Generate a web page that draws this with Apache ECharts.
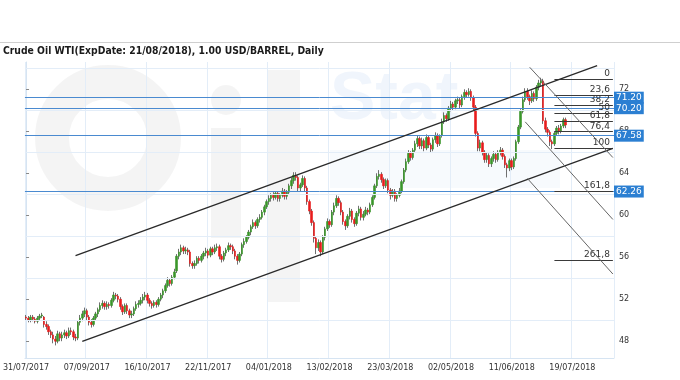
<!DOCTYPE html>
<html><head><meta charset="utf-8">
<script src="https://cdn.jsdelivr.net/npm/echarts@6/dist/echarts.min.js"></script>
<style>html,body{margin:0;padding:0;background:#fff}#c{width:680px;height:380px}</style>
</head><body><div id="c"></div>
<script>
const chartTitle = 'Crude Oil WTI(ExpDate: 21/08/2018), 1.00 USD/BARREL, Daily';
const tickLabels = ['31/07/2017','07/09/2017','16/10/2017','22/11/2017','04/01/2018','13/02/2018','23/03/2018','02/05/2018','11/06/2018','19/07/2018'];
const startDate = '2017-07-31';
const holidays = ['2017-09-04','2017-11-23','2017-11-24','2017-12-25','2018-01-01','2018-01-15','2018-02-19','2018-03-30','2018-05-28','2018-07-04'];
const categoryCount = 262;
const yTickValues = [48,52,56,60,64,68,72];
const yGridValues = [50,54,58,62,66,70,74];

const opens = [
50.3,50.2,50.0,50.3,50.1,49.9,50.2,50.4,50.3,49.6,
49.4,48.9,48.6,48.2,48.0,48.7,48.3,48.6,48.8,48.5,
49.0,48.9,48.4,48.3,49.8,50.2,50.6,50.9,50.3,49.8,
49.6,50.2,50.6,51.0,51.4,51.6,51.3,51.5,51.4,51.9,
52.4,52.3,52.0,51.3,50.8,51.4,50.9,50.5,50.6,51.1,
51.5,51.6,51.9,52.2,52.4,51.9,51.6,51.4,51.7,51.5,
52.0,52.4,52.8,53.3,53.8,53.5,54.1,54.7,56.1,56.5,
56.9,56.6,56.7,56.5,55.4,55.2,55.4,55.9,55.7,56.1,
56.4,56.6,56.2,56.8,56.5,56.9,57.0,56.1,55.8,56.4,
56.7,57.1,57.0,56.6,56.1,55.7,56.3,57.2,57.5,57.9,
58.4,58.9,59.3,59.0,59.6,59.8,60.3,60.8,61.3,61.6,
61.9,61.7,62.1,61.6,61.9,62.3,61.8,62.2,62.8,63.3,
63.8,63.6,62.6,62.9,63.5,62.6,61.3,60.4,59.3,57.8,
56.9,57.4,56.5,57.9,58.7,59.4,59.1,60.3,60.9,61.6,
61.2,60.3,59.4,59.0,59.9,60.4,59.6,59.2,60.2,60.6,
59.8,60.1,60.5,60.3,61.0,61.7,62.8,63.7,63.9,63.4,
62.8,63.3,62.4,61.9,62.3,61.6,61.9,62.3,63.2,64.3,
65.1,65.9,65.5,66.2,66.8,67.3,66.6,67.1,66.4,67.4,
66.7,66.3,67.2,67.6,66.8,67.6,68.9,69.5,69.2,70.2,
70.6,70.3,70.9,71.0,70.5,71.3,71.7,71.5,71.8,71.2,
70.3,67.8,66.4,66.9,66.0,65.3,65.7,64.9,65.4,65.8,
65.3,66.0,66.2,65.6,64.8,64.5,65.2,64.6,65.4,67.0,
68.4,69.9,71.0,71.8,71.3,70.9,71.6,71.1,72.2,72.6,
72.8,69.0,68.2,67.9,67.0,66.8,67.8,68.3,68.0,68.5,
69.1];
const closes = [
50.2,50.0,50.3,50.1,49.9,50.2,50.4,50.5,49.6,49.4,
48.9,48.6,48.2,48.0,48.7,48.3,48.6,48.8,48.5,49.0,
48.9,48.4,48.3,49.8,50.2,50.6,50.9,50.3,49.8,49.6,
50.2,50.6,51.0,51.4,51.6,51.3,51.5,51.4,51.9,52.4,
52.3,52.0,51.3,50.8,51.4,50.9,50.5,50.6,51.1,51.5,
51.6,51.9,52.2,52.4,51.9,51.6,51.4,51.7,51.5,52.0,
52.4,52.8,53.3,53.8,53.5,54.1,54.6,56.1,56.5,56.9,
56.6,56.7,56.5,55.4,55.2,55.4,55.9,55.7,56.1,56.4,
56.6,56.2,56.8,56.5,56.9,57.0,56.1,55.8,56.4,56.7,
57.1,57.0,56.6,56.1,55.7,56.3,57.2,57.5,57.9,58.4,
58.9,59.3,59.0,59.6,59.8,60.3,60.8,61.3,61.6,61.9,
61.7,62.1,61.6,61.9,62.3,61.8,62.2,62.8,63.3,63.8,
63.6,62.6,62.9,63.5,62.6,61.3,60.4,59.3,57.8,56.9,
57.4,56.5,57.9,58.7,59.4,59.1,60.3,60.9,61.6,61.2,
60.3,59.4,59.0,59.9,60.4,59.6,59.2,60.2,60.6,59.8,
60.1,60.5,60.3,61.0,61.7,62.8,63.7,63.9,63.4,62.8,
63.3,62.4,61.9,62.3,61.6,61.9,62.3,63.2,64.3,65.1,
65.9,65.5,66.2,66.8,67.3,66.6,67.1,66.4,67.4,66.7,
66.3,67.2,67.6,66.8,67.5,68.9,69.5,69.2,70.2,70.6,
70.3,70.9,71.0,70.5,71.3,71.7,71.5,71.8,71.2,70.3,
67.8,66.4,66.9,66.0,65.3,65.7,64.9,65.4,65.8,65.3,
66.0,66.2,65.6,64.8,64.5,65.2,64.6,65.4,67.0,68.4,
69.9,71.0,71.8,71.3,70.9,71.6,71.1,72.2,72.6,72.8,
69.0,68.2,67.9,67.0,66.8,67.8,68.3,68.0,68.5,69.1,
68.6];
const lows = [
50.0,49.8,49.8,49.9,49.7,49.7,50.0,50.2,49.3,49.1,
48.6,48.3,47.8,47.6,47.8,48.0,48.0,48.3,48.2,48.3,
48.6,48.1,48.0,48.1,49.5,49.9,50.3,50.0,49.5,49.3,
49.4,50.0,50.3,50.8,51.1,51.0,51.0,51.1,51.2,51.7,
52.0,51.7,51.0,50.5,50.6,50.6,50.2,50.2,50.4,50.9,
51.2,51.4,51.6,51.9,51.6,51.3,51.1,51.2,51.2,51.3,
51.8,52.1,52.6,53.1,53.2,53.3,53.9,54.5,55.8,56.2,
56.3,56.3,56.2,55.1,54.9,54.9,55.2,55.4,55.5,55.8,
56.1,55.9,56.0,56.2,56.3,56.6,55.8,55.5,55.6,56.1,
56.5,56.7,56.3,55.8,55.3,55.5,56.1,56.9,57.3,57.7,
58.1,58.7,58.7,58.8,59.3,59.6,60.0,60.6,61.0,61.3,
61.4,61.5,61.3,61.3,61.7,61.5,61.5,62.0,62.5,63.0,
63.3,62.3,62.3,62.7,62.3,61.0,60.1,59.0,57.4,56.3,
56.6,56.1,56.3,57.6,58.5,58.8,58.9,60.0,60.7,60.9,
60.0,59.1,58.6,58.8,59.6,59.3,58.9,59.0,59.9,59.5,
59.5,59.9,60.0,60.1,60.8,61.5,62.6,63.4,63.1,62.5,
62.6,62.1,61.5,61.7,61.3,61.3,61.7,62.1,63.0,64.1,
64.9,65.2,65.3,66.0,66.5,66.3,66.3,66.1,66.2,66.4,
66.0,66.1,66.9,66.5,66.6,67.4,68.7,68.9,69.0,69.9,
70.0,70.1,70.6,70.2,70.3,71.0,71.2,71.3,70.9,70.0,
67.5,66.1,66.1,65.7,65.0,65.0,64.6,64.6,65.1,65.0,
65.1,65.7,65.3,64.5,63.6,64.2,64.3,64.4,65.2,66.8,
68.2,69.7,70.8,71.0,70.5,70.7,70.8,70.9,71.9,72.3,
68.7,67.9,67.5,66.6,66.3,66.6,67.6,67.7,67.8,68.3,
68.3];
const highs = [
50.5,50.4,50.5,50.5,50.3,50.4,50.6,50.7,50.4,49.9,
49.6,49.1,48.9,48.5,49.0,48.9,48.9,49.1,49.0,49.3,
49.3,49.1,48.7,50.0,50.5,50.9,51.2,51.1,50.5,50.1,
50.4,50.8,51.2,51.7,51.9,51.8,51.8,51.7,52.1,52.7,
52.6,52.5,52.2,51.5,51.6,51.6,51.1,50.9,51.3,51.8,
51.9,52.2,52.5,52.7,52.6,52.1,51.8,51.9,51.9,52.2,
52.6,53.0,53.5,54.1,54.0,54.3,54.9,56.3,56.8,57.2,
57.1,57.0,56.9,56.7,55.6,55.7,56.1,56.1,56.3,56.6,
56.9,56.8,57.0,57.0,57.2,57.3,57.2,56.3,56.6,56.9,
57.4,57.3,57.2,56.8,56.3,56.5,57.4,57.8,58.1,58.6,
59.1,59.6,59.5,59.8,60.1,60.5,61.0,61.5,61.9,62.1,
62.2,62.3,62.3,62.1,62.6,62.5,62.4,63.0,63.6,64.1,
64.1,63.8,63.1,63.8,63.7,62.8,61.5,60.6,59.5,58.0,
57.7,57.6,58.1,58.9,59.7,59.6,60.5,61.2,61.9,61.8,
61.4,60.5,59.6,60.1,60.7,60.6,59.8,60.4,60.9,60.8,
60.4,60.8,60.7,61.2,61.9,63.0,64.0,64.3,64.1,63.6,
63.5,63.5,62.6,62.5,62.5,62.1,62.6,63.4,64.5,65.4,
66.2,66.1,66.4,67.1,67.6,67.5,67.4,67.3,67.7,67.6,
66.9,67.4,67.9,67.8,67.7,69.2,69.8,69.7,70.4,70.9,
70.8,71.1,71.3,71.2,71.5,72.0,71.9,72.1,72.0,71.4,
70.5,68.0,67.2,67.1,66.2,66.0,65.9,65.6,66.1,66.0,
66.2,66.5,66.4,65.8,65.0,65.4,65.4,65.6,67.2,68.6,
70.1,71.3,72.1,72.1,71.5,71.9,71.8,72.4,72.9,73.1,
73.0,69.3,68.4,68.1,67.2,68.0,68.5,68.6,68.7,69.3,
69.3];

const priceLevels = [71.20, 70.20, 67.58, 62.26];
const fibHigh = 73.0;
const fibLow = 66.4;
const fibLevels = [0, 23.6, 38.2, 50, 61.8, 76.4, 100, 161.8, 261.8];
const fibLabels = ['0','23,6','38,2','50','61,8','76,4','100','161,8','261,8'];
const fibStartIndex = 235;
const fibEndIndex = 261;
const channelUpper = [[22, 56.15], [254, 74.26]];
const channelLower = [[25, 47.98], [261, 66.38]];
const descLineA = [[224, 74.1], [261, 65.5]];
const descLineB = [[222, 68.9], [261, 59.6]];
const descLineC = [[223, 63.5], [261, 54.4]];

function buildCategories() {
  const out = [];
  const hol = new Set(holidays);
  let t = Date.parse(startDate + 'T00:00:00Z');
  while (out.length < categoryCount) {
    const d = new Date(t);
    const iso = d.toISOString().slice(0, 10);
    const wd = d.getUTCDay();
    if (wd !== 0 && wd !== 6 && !hol.has(iso)) {
      out.push(iso.slice(8, 10) + '/' + iso.slice(5, 7) + '/' + iso.slice(0, 4));
    }
    t += 86400000;
  }
  return out;
}
const categories = buildCategories();
const labelSet = new Set(tickLabels);

const fullCandles = opens.map((o, i) => [o, closes[i], lows[i], highs[i]]);
const bodyCandles = opens.map((o, i) => [o, closes[i], Math.min(o, closes[i]), Math.max(o, closes[i])]);

const FONT = 'DejaVu Sans';
const chart = echarts.init(document.getElementById('c'), null, {renderer: 'canvas'});

const noSym = ['none', 'none'];
const trendSeries = (data, color, width) => ({
  type: 'line', xAxisIndex: 1, yAxisIndex: 0, data: data, symbol: 'none',
  lineStyle: {color: color, width: width}, silent: true, z: 6, animation: false
});
const wmGray = 'rgba(0,0,0,0.045)';
const wmBlue = 'rgba(40,120,210,0.07)';

chart.setOption({
  animation: false,
  backgroundColor: '#fff',
  grid: {left: 22, right: 66, top: 62, bottom: 22},
  graphic: [
    {type: 'circle', shape: {cx: 108, cy: 138, r: 56}, style: {fill: 'none', stroke: wmGray, lineWidth: 34}, z: -1, silent: true},
    {type: 'rect', shape: {x: 211, y: 128, width: 30, height: 110}, style: {fill: wmGray}, z: -1, silent: true},
    {type: 'circle', shape: {cx: 226, cy: 100, r: 15}, style: {fill: wmGray}, z: -1, silent: true},
    {type: 'rect', shape: {x: 268, y: 70, width: 32, height: 232}, style: {fill: wmGray}, z: -1, silent: true},
    {type: 'text', style: {x: 330, y: 66, text: 'Stat', font: 'bold 68px "Liberation Sans"', fill: wmBlue}, z: -1, silent: true},
    {type: 'rect', shape: {x: 330, y: 150, width: 230, height: 38}, style: {fill: 'rgba(40,120,210,0.04)'}, z: -1, silent: true},
    {type: 'line', shape: {x1: 0, y1: 42.5, x2: 680, y2: 42.5}, style: {stroke: '#cfcfcf', lineWidth: 1}, z: 10},
    {type: 'text', style: {x: 3, y: 51, text: chartTitle, font: 'bold 10.3px "DejaVu Sans Condensed", "DejaVu Sans"', fill: '#1a1a1a', verticalAlign: 'middle'}, z: 10}
  ],
  xAxis: [
    {
      type: 'category', data: categories, boundaryGap: true,
      axisLine: {show: true, lineStyle: {color: '#d6e4f2'}},
      axisTick: {show: false},
      axisLabel: {interval: (i, v) => labelSet.has(v), fontFamily: FONT, fontSize: 8, color: '#333', margin: 6},
      splitLine: {show: true, interval: (i, v) => labelSet.has(v), lineStyle: {color: '#e3edf8', width: 1}}
    },
    {type: 'value', min: -0.5, max: categoryCount - 0.5, show: false}
  ],
  yAxis: [{
    type: 'value', position: 'right', min: 46.4, max: 74.6,
    axisLine: {show: true, lineStyle: {color: '#d6e4f2'}},
    axisTick: {show: true, length: 3, customValues: yTickValues, lineStyle: {color: '#888'}},
    axisLabel: {customValues: yTickValues, fontFamily: FONT, fontSize: 8, color: '#333', margin: 5},
    splitLine: {show: false}
  }],
  series: [
    {
      type: 'line', xAxisIndex: 1, data: [], z: 1, silent: true,
      markLine: {silent: true, symbol: noSym, animation: false, label: {show: false},
        lineStyle: {color: '#e3edf8', width: 1, type: 'solid'},
        data: yGridValues.map(v => ({yAxis: v}))}
    },
    {
      type: 'candlestick', xAxisIndex: 0, data: fullCandles, barWidth: 1, z: 3, silent: true,
      itemStyle: {color: '#707070', color0: '#707070', borderColor: '#707070', borderColor0: '#707070', borderWidth: 1}
    },
    {
      type: 'candlestick', xAxisIndex: 0, data: bodyCandles, barWidth: 2, z: 4, silent: true,
      itemStyle: {color: '#3a962a', color0: '#e81c1c', borderColor: '#3a962a', borderColor0: '#e81c1c', borderWidth: 0.6}
    },
    {
      type: 'line', xAxisIndex: 1, data: [], z: 5, silent: true,
      markLine: {silent: true, symbol: noSym, animation: false,
        lineStyle: {color: '#4a8ad0', width: 1, type: 'solid'},
        label: {show: true, position: 'end', distance: 0, color: '#fff', backgroundColor: '#2b7fd2',
          fontFamily: FONT, fontSize: 9, padding: [2, 2, 1, 2], formatter: p => p.value.toFixed(2)},
        data: priceLevels.map(v => ({yAxis: v}))}
    },
    {
      type: 'line', xAxisIndex: 1, data: [], z: 5, silent: true,
      markLine: {silent: true, symbol: noSym, animation: false,
        lineStyle: {color: '#3a3a3a', width: 1, type: 'solid'},
        label: {show: true, position: 'insideEndTop', distance: [3, 1], color: '#333', fontFamily: FONT, fontSize: 9},
        data: fibLevels.map((lv, i) => {
          const v = fibHigh - (fibHigh - fibLow) * lv / 100;
          return [{coord: [fibStartIndex, v], name: fibLabels[i], label: {formatter: fibLabels[i]}}, {coord: [fibEndIndex, v]}];
        })}
    },
    trendSeries(channelUpper, '#2a2a2a', 1.3),
    trendSeries(channelLower, '#2a2a2a', 1.3),
    trendSeries(descLineA, '#666', 1),
    trendSeries(descLineB, '#666', 1),
    trendSeries(descLineC, '#666', 1)
  ]
});
</script>
</body></html>
